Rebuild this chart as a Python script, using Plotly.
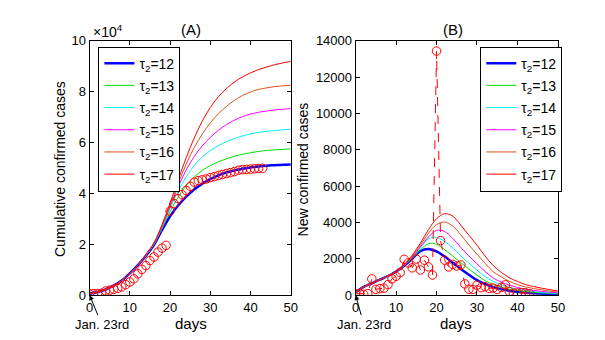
import numpy as np
import plotly.graph_objects as go

# ---------------- data: Wuhan confirmed cases from Jan. 23rd (day 0) ----------------
obs_days = list(range(44))
cum_cases = [495, 572, 618, 698, 1590, 1905, 2261, 2639, 3215, 4109, 5142, 6384, 8351,
             10117, 11618, 13603, 14982, 16902, 18454, 19558, 32994, 35991, 37914, 39462,
             41152, 42752, 44412, 45027, 45346, 45660, 46201, 46607, 47071, 47441, 47824,
             48137, 48557, 49122, 49315, 49426, 49540, 49671, 49797, 49871]
new_cases = [70, 77, 46, 80, 892, 315, 356, 378, 576, 894, 1033, 1242, 1967, 1766, 1501,
             1985, 1379, 1920, 1552, 1104, 13436, 2997, 1923, 1548, 1690, 1600, 1660, 615,
             319, 314, 541, 406, 464, 370, 383, 313, 420, 565, 193, 111, 114, 131, 126, 74]

# ---------------- model curves (every 2 days) ----------------
model_days = [0, 2, 4, 6, 8, 10, 12, 14, 16, 18, 20, 22, 24, 26, 28, 30, 32, 34, 36, 38,
              40, 42, 44, 46, 48, 50]
tau_labels = ['12', '13', '14', '15', '16', '17']

# cumulative, units of 10^4
cum_model = [
    [0.05, 0.12, 0.22, 0.37, 0.57, 0.85, 1.18, 1.55, 1.98, 2.56, 3.10, 3.52, 3.87, 4.15, 4.38,
     4.56, 4.71, 4.82, 4.90, 4.97, 5.02, 5.06, 5.09, 5.11, 5.13, 5.14],
    [0.05, 0.12, 0.22, 0.37, 0.57, 0.85, 1.18, 1.56, 2.00, 2.62, 3.28, 3.85, 4.30, 4.64, 4.90,
     5.09, 5.24, 5.36, 5.46, 5.54, 5.60, 5.65, 5.69, 5.71, 5.73, 5.75],
    [0.05, 0.12, 0.22, 0.37, 0.57, 0.85, 1.18, 1.56, 2.01, 2.66, 3.40, 4.08, 4.65, 5.10, 5.43,
     5.68, 5.88, 6.03, 6.16, 6.26, 6.34, 6.40, 6.44, 6.47, 6.50, 6.52],
    [0.05, 0.12, 0.22, 0.37, 0.57, 0.85, 1.18, 1.57, 2.02, 2.70, 3.48, 4.25, 4.92, 5.45, 5.87,
     6.20, 6.48, 6.70, 6.88, 7.02, 7.12, 7.19, 7.24, 7.28, 7.31, 7.33],
    [0.05, 0.12, 0.22, 0.37, 0.57, 0.85, 1.18, 1.57, 2.03, 2.73, 3.54, 4.38, 5.15, 5.80, 6.33,
     6.77, 7.13, 7.42, 7.66, 7.85, 7.99, 8.09, 8.15, 8.20, 8.23, 8.25],
    [0.05, 0.12, 0.22, 0.37, 0.57, 0.85, 1.18, 1.58, 2.05, 2.77, 3.62, 4.52, 5.40, 6.18, 6.84,
     7.38, 7.80, 8.12, 8.38, 8.58, 8.74, 8.87, 8.97, 9.06, 9.13, 9.19],
]

# new cases per day
new_model = [
    [150, 450, 650, 850, 1050, 1300, 1620, 2000, 2420, 2540, 2400, 2120, 1780, 1440, 1120, 820,
     600, 440, 330, 240, 180, 130, 100, 80, 60, 50],
    [150, 450, 650, 850, 1050, 1300, 1630, 2030, 2480, 2830, 2800, 2500, 2150, 1790, 1430, 1100,
     800, 580, 440, 330, 250, 200, 150, 120, 90, 70],
    [150, 450, 650, 850, 1050, 1300, 1640, 2060, 2570, 3100, 3180, 2950, 2600, 2160, 1750, 1370,
     1020, 760, 570, 430, 330, 260, 200, 150, 120, 90],
    [150, 450, 650, 850, 1050, 1300, 1650, 2100, 2650, 3200, 3560, 3500, 3120, 2620, 2150, 1720,
     1300, 940, 720, 550, 420, 320, 260, 200, 160, 120],
    [150, 450, 650, 850, 1050, 1300, 1660, 2140, 2750, 3400, 3880, 4020, 3800, 3320, 2760, 2250,
     1750, 1290, 1000, 760, 580, 450, 360, 290, 220, 170],
    [150, 450, 650, 850, 1050, 1300, 1680, 2200, 2850, 3600, 4200, 4480, 4350, 3850, 3300, 2750,
     2150, 1630, 1250, 950, 750, 580, 470, 380, 300, 220],
]

colors = ['#0000ff', '#00e000', '#00f0f0', '#ff00ff', '#d95319', '#ff0000']
widths = [2.5, 1, 1, 1, 1, 1]

W, H = 605, 340
def px(x):  # pixel -> paper
    return x / W
def py(y):
    return 1 - y / H

fig = go.Figure()

for k in range(6):
    fig.add_trace(go.Scatter(x=model_days, y=np.array(cum_model[k]) * 1e4, mode='lines',
                             line=dict(color=colors[k], width=widths[k], shape='spline'),
                             name='τ<sub>2</sub>=' + tau_labels[k], legend='legend',
                             legendgroup='a' + tau_labels[k], xaxis='x', yaxis='y'))
fig.add_trace(go.Scatter(x=obs_days, y=cum_cases, mode='markers', showlegend=False,
                         marker=dict(symbol='circle-open', size=8.5, color='red',
                                     line=dict(width=1, color='red')),
                         xaxis='x', yaxis='y'))

for k in range(6):
    fig.add_trace(go.Scatter(x=model_days, y=new_model[k], mode='lines',
                             line=dict(color=colors[k], width=widths[k], shape='spline'),
                             name='τ<sub>2</sub>=' + tau_labels[k], legend='legend2',
                             legendgroup='b' + tau_labels[k], xaxis='x2', yaxis='y2'))
fig.add_trace(go.Scatter(x=obs_days, y=new_cases, mode='lines+markers', showlegend=False,
                         line=dict(color='red', width=1, dash='dash'),
                         marker=dict(symbol='circle-open', size=8.5, color='red',
                                     line=dict(width=1, color='red')),
                         xaxis='x2', yaxis='y2'))

ax_style = dict(showline=True, linecolor='black', linewidth=1, mirror='ticks',
                ticks='inside', ticklen=4, tickcolor='black', showgrid=False,
                zeroline=False, tickfont=dict(size=13, color='black'))

fig.update_layout(
    width=W, height=H, plot_bgcolor='white', paper_bgcolor='white',
    margin=dict(l=0, r=0, t=0, b=0),
    font=dict(family='Liberation Sans, Arial, sans-serif', size=14, color='black'),
    xaxis=dict(domain=[px(79), px(284)], range=[0, 50], dtick=10, anchor='y', **ax_style),
    yaxis=dict(domain=[py(293), py(27)], range=[0, 100000],
               tickvals=[0, 20000, 40000, 60000, 80000, 100000],
               ticktext=['0', '2', '4', '6', '8', '10'], anchor='x', **ax_style),
    xaxis2=dict(domain=[px(350), px(556)], range=[0, 50], dtick=10, anchor='y2', **ax_style),
    yaxis2=dict(domain=[py(293), py(27)], range=[0, 14000], dtick=2000, tickformat='d',
                anchor='x2', **ax_style),
    legend=dict(x=px(88), y=py(33), xanchor='left', yanchor='top', bgcolor='white',
                bordercolor='black', borderwidth=1, font=dict(size=14), tracegroupgap=1),
    legend2=dict(x=px(477), y=py(33), xanchor='left', yanchor='top', bgcolor='white',
                 bordercolor='black', borderwidth=1, font=dict(size=14), tracegroupgap=1),
    hovermode='closest',
)

annots = [
    dict(text='(A)', x=px(182), y=py(15), size=15),
    dict(text='(B)', x=px(449), y=py(15), size=15),
    dict(text='×10<sup>4</sup>', x=px(80), y=py(17), xanchor='left', size=14),
    dict(text='days', x=px(182), y=py(323), size=15),
    dict(text='days', x=px(452), y=py(323), size=15),
    dict(text='Cumulative confirmed cases', x=px(49), y=py(161), textangle=-90, size=14),
    dict(text='New confirmed cases', x=px(296), y=py(162), textangle=-90, size=14),
]
for a in annots:
    a.setdefault('xanchor', 'center')
    size = a.pop('size')
    fig.add_annotation(xref='paper', yref='paper', yanchor='middle', showarrow=False,
                       font=dict(size=size), **a)

fig.add_annotation(x=0, y=0, xref='x', yref='y', text='Jan. 23rd', showarrow=True,
                   ax=12, ay=29, arrowhead=2, arrowsize=1, arrowwidth=1, arrowcolor='black',
                   font=dict(size=13))
fig.add_annotation(x=0, y=0, xref='x2', yref='y2', text='Jan. 23rd', showarrow=True,
                   ax=8, ay=29, arrowhead=2, arrowsize=1, arrowwidth=1, arrowcolor='black',
                   font=dict(size=13))

fig.write_html("out.html")
